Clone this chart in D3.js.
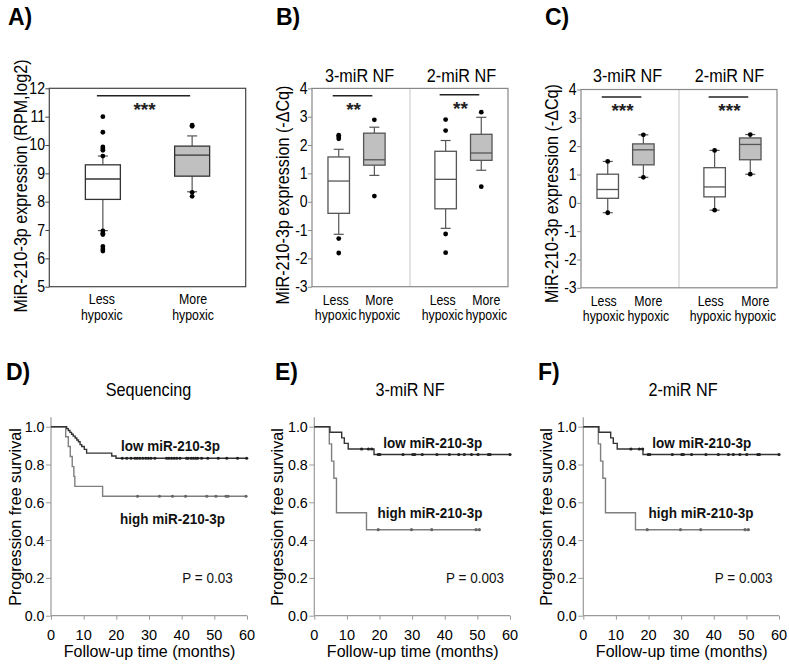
<!DOCTYPE html>
<html><head><meta charset="utf-8">
<script src="https://cdn.jsdelivr.net/npm/d3@7"></script>
<style>body{margin:0;background:#fff}</style>
</head><body>
<svg id="c" width="789" height="664"></svg>
<script>
// ================= DATA =================
const panelLabels = ["A)","B)","C)","D)","E)","F)"];
const groupNames = ["Less", "More"];
const groupSub = "hypoxic";
const normFactors = ["3-miR NF","2-miR NF"];

// Panel A: RPM, log2
const aTicks = [5,6,7,8,9,10,11,12];
const aWhiskLo = [6.98, 8.35];
const aQ1 = [8.08, 8.90];
const aMedian = [8.80, 9.64];
const aQ3 = [9.30, 9.96];
const aWhiskHi = [9.61, 10.32];
const aOutliers = [[11.0,10.45,9.93,9.87,9.81,9.61,6.97,6.89,6.84,6.42,6.33,6.26],[10.70,10.66,8.33,8.19]];
const aStars = "***";

// Panels B, C: -ΔCq ; order = 3-miR less, 3-miR more, 2-miR less, 2-miR more
const bcTicks = [-3,-2,-1,0,1,2,3,4];
const bWhiskLo = [-1.15, 0.93, -0.94, 1.11];
const bQ1 = [-0.41, 1.29, -0.25, 1.46];
const bMedian = [0.73, 1.48, 0.79, 1.72];
const bQ3 = [1.58, 2.42, 1.78, 2.38];
const bWhiskHi = [1.85, 2.63, 2.16, 2.98];
const bOutliers = [[2.35,2.29,2.22,-1.30,-1.81],[2.89,0.20],[2.90,2.51,-1.14,-1.80],[3.16,0.53]];
const bStars = ["**","**"];

const cWhiskLo = [-0.35, 0.90, -0.26, 1.01];
const cQ1 = [0.16, 1.34, 0.21, 1.52];
const cMedian = [0.47, 1.87, 0.56, 2.06];
const cQ3 = [1.01, 2.08, 1.24, 2.29];
const cWhiskHi = [1.46, 2.40, 1.85, 2.41];
const cOutliers = [[1.46,-0.35],[2.40,0.90],[1.85,-0.26],[2.41,1.01]];
const cStars = ["***","***"];

// Kaplan-Meier panels
const kmTitles = ["Sequencing","3-miR NF","2-miR NF"];
const kmPValues = ["P = 0.03","P = 0.003","P = 0.003"];
const kmSeriesNames = ["low miR-210-3p","high miR-210-3p"];
const kmXTicks = [0,10,20,30,40,50,60];
const kmYTicks = [0,0.2,0.4,0.6,0.8,1.0];
const kmYLabels = ["0.0","0.2","0.4","0.6","0.8","1.0"];

const dLowTimes = [0,4.8,5.3,5.8,6.3,6.8,7.4,7.9,8.4,8.9,9.4,10.2,10.9,18.6,19.9];
const dLowSurv  = [1,0.99,0.98,0.97,0.96,0.95,0.94,0.93,0.92,0.905,0.895,0.88,0.86,0.845,0.833];
const dLowEnd = 60;
const dLowCensor = [21.8,23.2,24.5,25.7,26.4,27.2,28.1,29.0,29.8,30.6,31.8,35.4,36.1,36.9,37.7,38.5,39.5,41.5,42.0,42.9,43.6,44.3,44.9,46.1,48.0,51.2,53.8,57.1,59.9];
const dHighTimes = [0,4.5,5.3,5.9,6.5,7.0,7.3,15.8];
const dHighSurv  = [1,0.947,0.895,0.842,0.789,0.737,0.684,0.632];
const dHighEnd = 60;
const dHighCensor = [26.5,33.2,37.2,41.2,47.7,50.5,53.6,54.2,59.7];

const eLowTimes = [0,4.8,8.4,9.2,10.4,18.3];
const eLowSurv  = [1,0.971,0.941,0.912,0.882,0.853];
const eLowEnd = 60;
const eLowCensor = [14.5,16.6,17.6,19.6,20.1,27.2,30.2,30.8,33.1,37.6,41.4,44.3,46.0,48.2,50.2,53.4,53.9,60];
const eHighTimes = [0,4.6,5.3,6.0,6.8,16.0];
const eHighSurv  = [1,0.909,0.818,0.727,0.545,0.455];
const eHighEnd = 50.8;
const eHighCensor = [19.6,29.8,36.0,49.6,50.6];

const fLowTimes = [0,4.8,8.4,9.2,10.4,18.3];
const fLowSurv  = [1,0.971,0.941,0.912,0.882,0.853];
const fLowEnd = 60;
const fLowCensor = [14.6,17.2,18.2,19.9,20.4,27.3,30.2,30.7,33.2,37.6,41.4,44.5,46.0,48.0,50.1,53.5,54.0,60];
const fHighTimes = [0,4.6,5.3,6.0,6.8,16.0];
const fHighSurv  = [1,0.909,0.818,0.727,0.545,0.455];
const fHighEnd = 50.8;
const fHighCensor = [19.6,29.8,36.0,49.6,50.6];

// ================= DRAWING =================
const svg = d3.select("#c");
const FONT = "'Liberation Sans', Arial, Helvetica, sans-serif";

function label(x, y, s, o = {}) {
  return svg.append("text")
    .attr("transform", `translate(${x},${y})` + (o.rot ? ` rotate(${o.rot})` : "") + ` scale(${o.sx ?? 1},1)`)
    .attr("font-family", FONT)
    .attr("font-size", o.size ?? 14)
    .attr("font-weight", o.bold ? "bold" : "normal")
    .attr("text-anchor", o.anchor ?? "middle")
    .attr("fill", o.fill ?? "#000")
    .text(s);
}

// panel letters
const letterPos = [[8,25],[276,25],[545,25],[6,380],[275,380],[538,380]];
panelLabels.forEach((p, i) => label(letterPos[i][0], letterPos[i][1], p, {size: 23, bold: true, anchor: "start"}));

function boxPanel(cfg) {
  const {x, y, slots, lo, q1, med, q3, hi, outl, boxW, ticks, frame, fills, boxStroke} = cfg;
  const [x0, x1] = x.range();
  const [yb, yt] = y.range();
  const g = svg.append("g");
  const ax = g.append("g").attr("transform", `translate(${x0},0)`)
    .call(d3.axisLeft(y).tickValues(ticks).tickSize(4).tickFormat(""));
  ax.select(".domain").remove();
  ax.selectAll("line").attr("stroke", frame);
  ticks.forEach(v => label(x0 - 4.3, y(v) + 5.5, String(v), {anchor: "end", size: 16, sx: 0.88}));
  if (cfg.divider !== undefined) {
    g.append("line").attr("x1", x(cfg.divider)).attr("x2", x(cfg.divider))
      .attr("y1", yt).attr("y2", yb).attr("stroke", "#cfcfcf").attr("stroke-width", 1.2);
  }
  g.append("rect").attr("x", x0).attr("y", yt).attr("width", x1 - x0).attr("height", yb - yt)
    .attr("fill", "none").attr("stroke", frame).attr("stroke-width", 1.2);
  slots.forEach((s, i) => {
    const cx = x(s);
    const wc = "#555";
    g.append("line").attr("x1", cx).attr("x2", cx).attr("y1", y(lo[i])).attr("y2", y(q1[i])).attr("stroke", wc).attr("stroke-width", 1.2);
    g.append("line").attr("x1", cx).attr("x2", cx).attr("y1", y(q3[i])).attr("y2", y(hi[i])).attr("stroke", wc).attr("stroke-width", 1.2);
    [lo[i], hi[i]].forEach(v => g.append("line").attr("x1", cx - 5).attr("x2", cx + 5)
      .attr("y1", y(v)).attr("y2", y(v)).attr("stroke", wc).attr("stroke-width", 1.2));
    g.append("rect").attr("x", cx - boxW / 2).attr("y", y(q3[i])).attr("width", boxW)
      .attr("height", y(q1[i]) - y(q3[i])).attr("fill", fills[i % 2]).attr("stroke", boxStroke).attr("stroke-width", 1.3);
    g.append("line").attr("x1", cx - boxW / 2).attr("x2", cx + boxW / 2).attr("y1", y(med[i])).attr("y2", y(med[i]))
      .attr("stroke", boxStroke).attr("stroke-width", 1.3);
    outl[i].forEach(v => g.append("circle").attr("cx", cx).attr("cy", y(v)).attr("r", 2.4).attr("fill", "#000"));
  });
}

function sigBar(x, c1, c2, yLine, stars) {
  const xa = x(c1) - 6, xb = x(c2) - 2;
  svg.append("line").attr("x1", xa).attr("x2", xb).attr("y1", yLine).attr("y2", yLine)
    .attr("stroke", "#222").attr("stroke-width", 1.6);
  label((xa + xb) / 2 + 1, yLine + 20, stars, {size: 19, bold: true, fill: "#222"});
}

function groupLabels(x, slots, y1, y2, shifts) {
  slots.forEach((s, i) => {
    const cx = x(s) + shifts[i % 2];
    label(cx, y1, groupNames[i % 2], {size: 14, sx: 0.88});
    label(cx, y2, groupSub, {size: 14, sx: 0.88});
  });
}

// ---- Panel A ----
const xA = d3.scaleLinear().domain([0.4, 2.6]).range([49.3, 245.7]);
const yA = d3.scaleLinear().domain([5, 12]).range([286.7, 88.3]);
boxPanel({x: xA, y: yA, slots: [1, 2], lo: aWhiskLo, q1: aQ1, med: aMedian, q3: aQ3, hi: aWhiskHi, outl: aOutliers,
  boxW: 35, ticks: aTicks, frame: "#444", fills: ["#fff", "#c0c0c0"], boxStroke: "#333"});
sigBar(xA, 1, 2, 95.7, aStars);
groupLabels(xA, [1, 2], 303.5, 319.5, [-1, 1]);
label(27, 186, "MiR-210-3p expression (RPM,log2)", {rot: -90, size: 19, sx: 0.85});

// ---- Panel B ----
const xB = d3.scaleLinear().domain([0.25, 5.75]).range([312, 508]);
const yB = d3.scaleLinear().domain([-3, 4]).range([286.7, 88.4]);
boxPanel({x: xB, y: yB, slots: [1, 2, 4, 5], lo: bWhiskLo, q1: bQ1, med: bMedian, q3: bQ3, hi: bWhiskHi, outl: bOutliers,
  boxW: 21.5, ticks: bcTicks, frame: "#888", fills: ["#fff", "#c0c0c0"], boxStroke: "#555", divider: 3});
sigBar(xB, 1, 2, 95.7, bStars[0]);
sigBar(xB, 4, 5, 94.7, bStars[1]);
groupLabels(xB, [1, 2, 4, 5], 305, 320, [-3, 5]);
label(xB(1.5) + 3, 81.7, normFactors[0], {size: 18, sx: 0.9});
label(xB(4.5) - 2, 81.7, normFactors[1], {size: 18, sx: 0.9});
label(289, 195, "MiR-210-3p expression (-\u0394Cq)", {rot: -90, size: 19, sx: 0.85});

// ---- Panel C ----
const xC = d3.scaleLinear().domain([0.25, 5.75]).range([581, 777]);
const yC = d3.scaleLinear().domain([-3, 4]).range([287.8, 89.5]);
boxPanel({x: xC, y: yC, slots: [1, 2, 4, 5], lo: cWhiskLo, q1: cQ1, med: cMedian, q3: cQ3, hi: cWhiskHi, outl: cOutliers,
  boxW: 21.5, ticks: bcTicks, frame: "#888", fills: ["#fff", "#c0c0c0"], boxStroke: "#555", divider: 3});
sigBar(xC, 1, 2, 97, cStars[0]);
sigBar(xC, 4, 5, 97, cStars[1]);
groupLabels(xC, [1, 2, 4, 5], 306, 321, [-4, 5]);
label(xC(1.5) + 2, 81.7, normFactors[0], {size: 18, sx: 0.9});
label(xC(4.5) - 3, 81.7, normFactors[1], {size: 18, sx: 0.9});
label(557.5, 193.5, "MiR-210-3p expression (-\u0394Cq)", {rot: -90, size: 19, sx: 0.85});

// ---- KM panels ----
function kmPanel(cfg) {
  const {x0, x1, title, pval, low, high, titleX, yTitleX, lowLbl, highLbl, pX} = cfg;
  const x = d3.scaleLinear().domain([0, 60]).range([x0, x1]);
  const y = d3.scaleLinear().domain([0, 1]).range([615.7, 426.7]);
  const g = svg.append("g");
  const axc = "#9a9a9a";
  g.append("line").attr("x1", x0).attr("x2", x0).attr("y1", y(1.05)).attr("y2", y(0)).attr("stroke", axc).attr("stroke-width", 1.2);
  g.append("line").attr("x1", x0).attr("x2", x1).attr("y1", y(0)).attr("y2", y(0)).attr("stroke", axc).attr("stroke-width", 1.2);
  const ay = g.append("g").attr("transform", `translate(${x0},0)`).call(d3.axisLeft(y).tickValues(kmYTicks).tickSize(5).tickFormat(""));
  ay.select(".domain").remove(); ay.selectAll("line").attr("stroke", axc);
  const axx = g.append("g").attr("transform", `translate(0,${y(0)})`).call(d3.axisBottom(x).tickValues(kmXTicks).tickSize(4).tickFormat(""));
  axx.select(".domain").remove(); axx.selectAll("line").attr("stroke", axc);
  kmYTicks.forEach((v, i) => label(x0 - 6.5, y(v) + 5.5, kmYLabels[i], {anchor: "end", size: 15.5, sx: 0.92}));
  kmXTicks.forEach(v => label(x(v), 639.5, String(v), {size: 14.5}));
  const line = d3.line().x(d => x(d[0])).y(d => y(d[1])).curve(d3.curveStepAfter);
  [[high, "#7f7f7f"], [low, "#333"]].forEach(([s, col]) => {
    const pts = s.times.map((t, i) => [t, s.surv[i]]);
    pts.push([s.end, s.surv[s.surv.length - 1]]);
    g.append("path").attr("d", line(pts)).attr("fill", "none").attr("stroke", col).attr("stroke-width", 1.4);
    s.censor.forEach(t => {
      let v = s.surv[0];
      s.times.forEach((tt, i) => { if (tt <= t) v = s.surv[i]; });
      g.append("circle").attr("cx", x(t)).attr("cy", y(v)).attr("r", 1.6).attr("fill", col === "#333" ? "#222" : "#666");
    });
  });
  label(titleX, 396, title, {size: 18, sx: 0.9});
  label(yTitleX, 517, "Progression free survival", {rot: -90, size: 17, sx: 0.95});
  label((x0 + x1) / 2 + 0.5, 657, "Follow-up time (months)", {size: 16});
  label(lowLbl[0], lowLbl[1], kmSeriesNames[0], {size: 15, bold: true, sx: 0.9, fill: "#111"});
  label(highLbl[0], highLbl[1], kmSeriesNames[1], {size: 15, bold: true, sx: 0.9, fill: "#111"});
  label(pX, 583, pval, {size: 15, sx: 0.9, fill: "#111"});
}

kmPanel({x0: 51, x1: 247, title: kmTitles[0], pval: kmPValues[0], titleX: 148.5, yTitleX: 21,
  low: {times: dLowTimes, surv: dLowSurv, end: dLowEnd, censor: dLowCensor},
  high: {times: dHighTimes, surv: dHighSurv, end: dHighEnd, censor: dHighCensor},
  lowLbl: [170.5, 451], highLbl: [172.5, 524], pX: 207.5});
kmPanel({x0: 314.3, x1: 510, title: kmTitles[1], pval: kmPValues[1], titleX: 410, yTitleX: 283,
  low: {times: eLowTimes, surv: eLowSurv, end: eLowEnd, censor: eLowCensor},
  high: {times: eHighTimes, surv: eHighSurv, end: eHighEnd, censor: eHighCensor},
  lowLbl: [432.7, 447.5], highLbl: [430, 517.5], pX: 475});
kmPanel({x0: 583.3, x1: 779, title: kmTitles[2], pval: kmPValues[2], titleX: 683, yTitleX: 551.5,
  low: {times: fLowTimes, surv: fLowSurv, end: fLowEnd, censor: fLowCensor},
  high: {times: fHighTimes, surv: fHighSurv, end: fHighEnd, censor: fHighCensor},
  lowLbl: [701.7, 447.5], highLbl: [701, 517.5], pX: 743.7});
</script>
</body></html>
